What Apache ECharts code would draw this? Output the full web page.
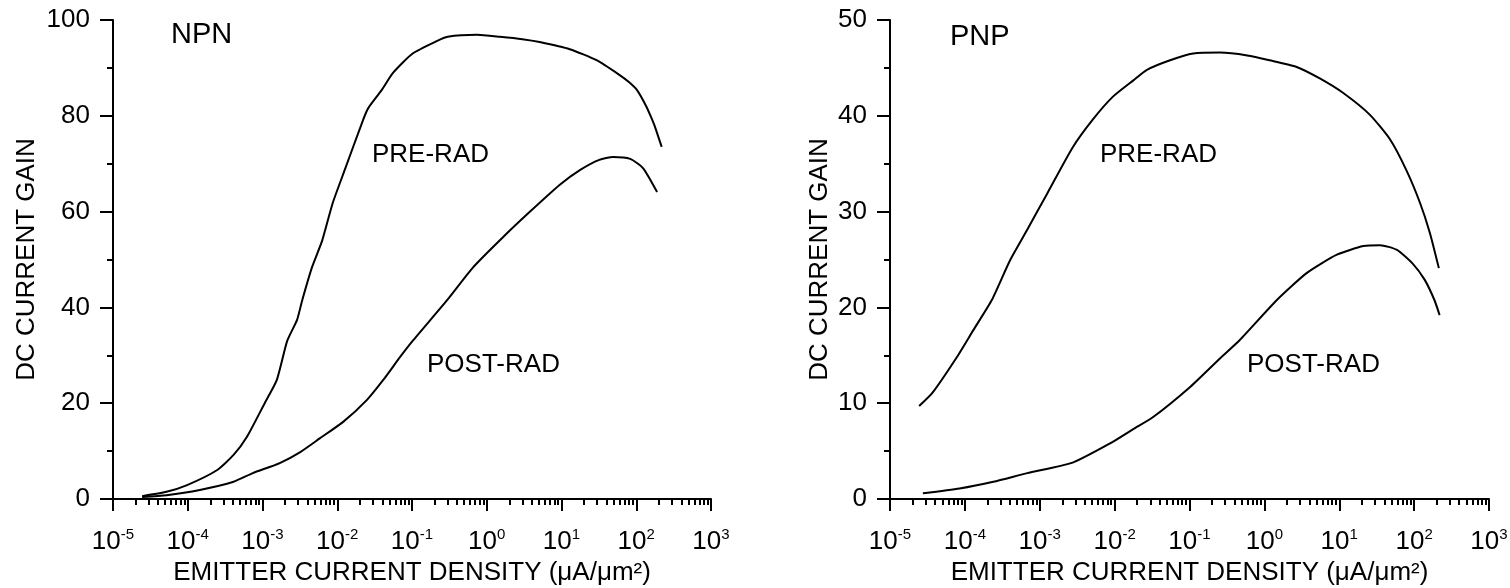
<!DOCTYPE html>
<html><head><meta charset="utf-8">
<script src="https://cdn.jsdelivr.net/npm/echarts@6/dist/echarts.min.js"></script>
<style>html,body{margin:0;padding:0;background:#fff}#c{width:1510px;height:588px}</style>
</head><body><div id="c"></div>
<script>
// ---- data ----
const npnPreX = [2.45e-5, 5.2e-5, 9.8e-5, 2.45e-4, 4.1e-4, 6.2e-4, 1.07e-3, 1.55e-3, 2.14e-3, 2.9e-3, 3.4e-3, 4.6e-3, 6.3e-3, 8.7e-3, 1.26e-2, 2.2e-2, 2.6e-2, 3.9e-2, 5.6e-2, 0.102, 0.214, 0.30, 0.74, 1.5, 3.0, 5.1, 12.9, 29.5, 60, 79, 102, 138, 158, 178, 219];
const npnPreY = [0.6, 1.5, 2.9, 6.0, 9.2, 13, 20, 24.8, 33, 37.4, 41.5, 48.4, 54, 61.8, 68.7, 79, 81.6, 85.3, 89, 93, 95.6, 96.5, 96.9, 96.5, 96, 95.4, 93.9, 91.6, 88.5, 87.1, 85.4, 81.8, 79.7, 77.7, 73.5];

const npnPostX = [2.45e-5, 5.2e-5, 1.45e-4, 4.1e-4, 7.4e-4, 1.7e-3, 3.2e-3, 5.9e-3, 1.2e-2, 2.5e-2, 4.1e-2, 6.9e-2, 0.102, 0.295, 0.66, 1.66, 3.8, 9.5, 17.8, 32, 49, 83, 123, 190];
const npnPostY = [0.4, 0.8, 1.9, 3.6, 5.4, 7.5, 9.8, 12.7, 16.1, 20.7, 24.8, 29.6, 33, 41.5, 48.4, 54.7, 60, 65.6, 68.7, 70.8, 71.4, 71, 69.1, 64.1];

const pnpPreX = [2.45e-5, 3.7e-5, 7.8e-5, 1.29e-4, 2.3e-4, 4.0e-4, 6.8e-4, 1.26e-3, 2.75e-3, 5.1e-3, 9.5e-3, 1.78e-2, 2.7e-2, 5.5e-2, 0.112, 0.257, 0.59, 1.17, 2.7, 5.5, 11.2, 25.7, 48, 79, 120, 162, 214];
const pnpPreY = [9.7, 11.1, 14.8, 17.6, 20.8, 24.9, 28.1, 31.9, 36.7, 39.6, 42, 43.7, 44.8, 45.8, 46.5, 46.6, 46.3, 45.8, 45.1, 43.9, 42.4, 40.1, 37.5, 34.3, 30.9, 27.8, 24.1];

const pnpPostX = [2.75e-5, 8.5e-5, 2.4e-4, 6.8e-4, 2.75e-3, 8.7e-3, 1.78e-2, 3.2e-2, 0.102, 0.257, 0.47, 1.48, 3.7, 9.3, 21, 35, 59, 95, 138, 186, 219];
const pnpPostY = [0.6, 1.1, 1.8, 2.7, 3.8, 5.8, 7.3, 8.5, 11.7, 14.7, 16.6, 20.8, 23.6, 25.5, 26.4, 26.5, 26, 24.6, 22.9, 20.8, 19.2];

const xTickExponents = [-5, -4, -3, -2, -1, 0, 1, 2, 3];
const minorMantissas = [2, 3, 4, 5, 6, 7, 8, 9];
const npnYTicks = [0, 20, 40, 60, 80, 100];
const pnpYTicks = [0, 10, 20, 30, 40, 50];
const xTitle = 'EMITTER CURRENT DENSITY (\u03bcA/\u03bcm\u00b2)';
const yTitle = 'DC CURRENT GAIN';

// ---- chart ----
const FONT = '"Liberation Sans", Arial, Helvetica, sans-serif';
const BLACK = '#000';
const minorTickVals = [];
for (let e = -5; e < 3; e++) minorMantissas.forEach(m => minorTickVals.push(e + Math.log10(m)));

function pairs(xs, ys) { return xs.map((x, i) => [x, ys[i]]); }

const grids = [
  { left: 113, top: 20, width: 598, height: 479, containLabel: false, outerBoundsMode: 'none' },
  { left: 890, top: 20, width: 599, height: 479, containLabel: false, outerBoundsMode: 'none' }
];

function logAxis(gi) {
  return {
    type: 'log', gridIndex: gi, logBase: 10, min: 1e-5, max: 1e3, interval: 1,
    position: 'bottom',
    name: xTitle, nameLocation: 'middle', nameGap: 59,
    nameTextStyle: { color: BLACK, fontSize: 26, fontFamily: FONT },
    axisLine: { show: true, onZero: false, lineStyle: { color: BLACK, width: 2 } },
    axisTick: { show: true, length: 12, lineStyle: { color: BLACK, width: 2 } },
    minorTick: { show: false },
    splitLine: { show: false },
    axisLabel: {
      margin: 28, color: BLACK, fontFamily: FONT,
      formatter: v => {
        const e = Math.round(Math.log10(v));
        const ok = xTickExponents.indexOf(e) >= 0;
        return ok ? '{b|10}{s|' + e + '}' : '';
      },
      rich: {
        b: { fontSize: 26, fontFamily: FONT, color: BLACK, lineHeight: 28, verticalAlign: 'bottom' },
        s: { fontSize: 15, fontFamily: FONT, color: BLACK, lineHeight: 28, verticalAlign: 'top' }
      }
    }
  };
}
function minorAxis(gi) {
  return {
    type: 'value', gridIndex: gi, min: -5, max: 3, position: 'bottom',
    axisLine: { show: false, onZero: false },
    axisLabel: { show: false },
    splitLine: { show: false },
    axisTick: { show: true, length: 6, customValues: minorTickVals, lineStyle: { color: BLACK, width: 2 } }
  };
}
function yAxis(gi, max, interval, gap, ticks) {
  return {
    type: 'value', gridIndex: gi, min: 0, max: max, interval: interval,
    name: yTitle, nameLocation: 'middle', nameGap: gap, nameRotate: 90,
    nameTextStyle: { color: BLACK, fontSize: 26, fontFamily: FONT },
    axisLine: { show: true, onZero: false, lineStyle: { color: BLACK, width: 2 } },
    axisTick: { show: true, length: 13, lineStyle: { color: BLACK, width: 2 } },
    minorTick: { show: true, splitNumber: 2, length: 6, lineStyle: { color: BLACK, width: 2 } },
    splitLine: { show: false }, minorSplitLine: { show: false },
    axisLabel: {
      margin: 23, color: BLACK, fontSize: 26, fontFamily: FONT,
      formatter: v => (ticks.indexOf(v) >= 0 ? String(v) : '')
    }
  };
}
function curve(xi, yi, xs, ys) {
  return {
    type: 'line', xAxisIndex: xi, yAxisIndex: yi, data: pairs(xs, ys),
    symbol: 'none', smooth: 0.2, silent: true,
    lineStyle: { color: BLACK, width: 2 }
  };
}
function label(text, x, y, size) {
  return { type: 'text', left: x, top: y,
    style: { text: text, fill: BLACK, font: size + 'px ' + FONT } };
}

const chart = echarts.init(document.getElementById('c'), null, { renderer: 'canvas' });
chart.setOption({
  backgroundColor: '#fff',
  animation: false,
  grid: grids,
  xAxis: [logAxis(0), minorAxis(0), logAxis(1), minorAxis(1)],
  yAxis: [yAxis(0, 100, 20, 73, npnYTicks), yAxis(1, 50, 10, 57, pnpYTicks)],
  series: [
    curve(0, 0, npnPreX, npnPreY),
    curve(0, 0, npnPostX, npnPostY),
    curve(2, 1, pnpPreX, pnpPreY),
    curve(2, 1, pnpPostX, pnpPostY)
  ],
  graphic: [
    label('NPN', 171, 20, 29),
    label('PNP', 950, 22, 29),
    label('PRE-RAD', 372, 142, 26),
    label('POST-RAD', 427, 352, 26),
    label('PRE-RAD', 1100, 142, 26),
    label('POST-RAD', 1247, 352, 26)
  ]
});
</script></body></html>
